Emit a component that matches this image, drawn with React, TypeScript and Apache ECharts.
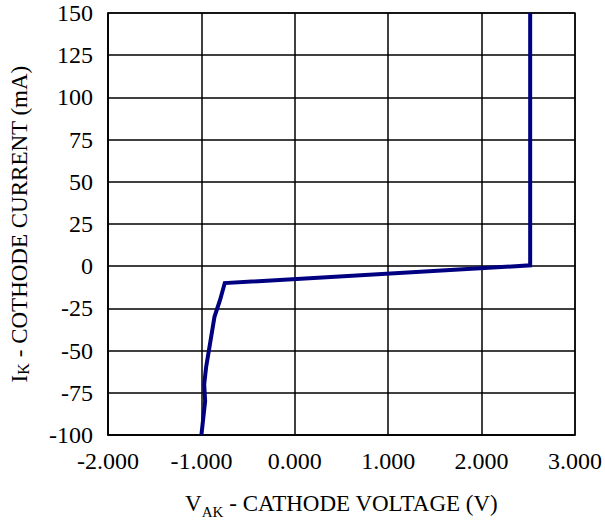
import React, { useEffect, useRef } from "react";
import * as echarts from "echarts";

const voltage = [2.52, 2.52, 2.52, 2.52, -0.75, -0.8, -0.86, -0.89, -0.92, -0.95, -0.97, -0.96, -1.0];
const current = [150, 100, 50, 0.5, -10, -20, -30, -40, -50, -60, -70, -80, -100];
const xTicks = { min: -2, max: 3, interval: 1 };
const yTicks = { min: -100, max: 150, interval: 25 };

export default function App() {
  const ref = useRef<HTMLDivElement>(null);
  useEffect(() => {
    const chart = echarts.init(ref.current!, undefined, { renderer: "svg" });
    const font = "Liberation Serif";
    const richX = {
      a: { fontFamily: font, fontSize: 23, color: "#000", verticalAlign: "bottom", lineHeight: 26 },
      s: { fontFamily: font, fontSize: 15, color: "#000", verticalAlign: "bottom", lineHeight: 22, padding: [0, 0, -4, 0] },
    };
    const richY = {
      a: { fontFamily: font, fontSize: 23, color: "#000", verticalAlign: "bottom", lineHeight: 26 },
      s: { fontFamily: font, fontSize: 16, color: "#000", verticalAlign: "bottom", lineHeight: 24 },
    };
    chart.setOption({
      animation: false,
      backgroundColor: "#ffffff",
      textStyle: { fontFamily: font },
      grid: { left: 100, right: 25, top: 13, bottom: 83, show: true, borderColor: "#222", borderWidth: 1.5 },
      xAxis: {
        type: "value",
        ...xTicks,
        axisLine: { show: true, onZero: false, lineStyle: { color: "#000", width: 1.5 } },
        axisTick: { show: false },
        splitLine: { show: true, lineStyle: { color: "#000", width: 1.5 } },
        axisLabel: {
          color: "#000",
          fontFamily: font,
          fontSize: 24,
          margin: 14,
          formatter: (v: number) => v.toFixed(3),
        },
        name: "{a|V}{s|AK}{a| - CATHODE VOLTAGE (V)}",
        nameLocation: "middle",
        nameGap: 54,
        nameTextStyle: { fontFamily: font, rich: richX },
      },
      yAxis: {
        type: "value",
        ...yTicks,
        axisLine: { show: true, onZero: false, lineStyle: { color: "#000", width: 1.5 } },
        axisTick: { show: false },
        splitLine: { show: true, lineStyle: { color: "#000", width: 1.5 } },
        axisLabel: { color: "#000", fontFamily: font, fontSize: 24, margin: 15 },
        name: "{a|I}{s|K}{a| - COTHODE CURRENT (mA)}",
        nameLocation: "middle",
        nameGap: 77,
        nameTextStyle: { fontFamily: font, rich: richY },
      },
      series: [
        {
          type: "line",
          data: voltage.map((v, i) => [v, current[i]]),
          showSymbol: false,
          lineStyle: { color: "#000080", width: 4, join: "miter" },
        },
      ],
    });
    return () => chart.dispose();
  }, []);
  return (
    <div
      ref={ref}
      style={{ position: "absolute", left: 0, top: 0, width: 605, height: 524 }}
    />
  );
}
